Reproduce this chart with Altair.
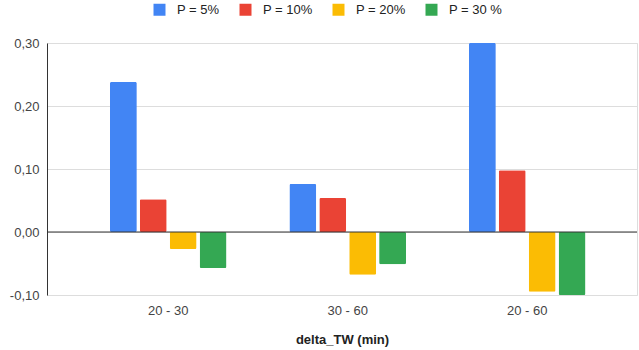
import altair as alt
import pandas as pd

# Intervals on the x axis and the four P series
intervals = ["20 - 30", "30 - 60", "20 - 60"]
series = ["P = 5%", "P = 10%", "P = 20%", "P = 30 %"]
colors = ["#4285F4", "#EA4335", "#FBBC04", "#34A853"]

p5 = [0.238, 0.076, 0.300]
p10 = [0.052, 0.054, 0.098]
p20 = [-0.027, -0.068, -0.095]
p30 = [-0.057, -0.051, -0.100]

rows = []
for s, vals in zip(series, [p5, p10, p20, p30]):
    for iv, v in zip(intervals, vals):
        rows.append({"interval": iv, "series": s, "value": v})
df = pd.DataFrame(rows)

font = "Liberation Sans"
comma_fmt = "replace(replace(format(datum.value, '.2f'), '.', ','), '\u2212', '-')"

bars = alt.Chart(df).mark_bar(cornerRadius=1.5).encode(
    x=alt.X(
        "interval:N",
        sort=intervals,
        scale=alt.Scale(paddingInner=0.35, paddingOuter=0.3185, align=0.55),
        axis=alt.Axis(
            title="delta_TW (min)",
            labelAngle=0,
            domain=False,
            ticks=False,
            labelPadding=9,
            labelFontSize=13,
            labelColor="#444444",
            labelFont=font,
            titleFont=font,
            titleFontSize=13,
            titleFontWeight="bold",
            titleColor="#222222",
            titlePadding=16,
        ),
    ),
    xOffset=alt.XOffset(
        "series:N", sort=series, scale=alt.Scale(paddingInner=0.1, paddingOuter=0)
    ),
    y=alt.Y(
        "value:Q",
        scale=alt.Scale(domain=[-0.1, 0.3], nice=False),
        axis=alt.Axis(
            title=None,
            values=[-0.1, 0.0, 0.1, 0.2, 0.3],
            labelExpr=comma_fmt,
            grid=True,
            gridColor="#dddddd",
            domain=True,
            domainColor="#333333",
            ticks=False,
            labelPadding=8,
            labelFontSize=13,
            labelColor="#444444",
            labelFont=font,
        ),
    ),
    fill=alt.Fill(
        "series:N",
        sort=series,
        scale=alt.Scale(domain=series, range=colors),
        legend=alt.Legend(
            title=None,
            orient="none",
            legendX=106,
            legendY=-40,
            direction="horizontal",
            symbolType="square",
            symbolSize=144,
            symbolStrokeWidth=0,
            labelFontSize=13,
            labelFont=font,
            labelColor="#222222",
            labelOffset=11,
            columnPadding=19,
        ),
    ),
)

zero = alt.Chart(pd.DataFrame({"y": [0.0]})).mark_rule(color="#333333", strokeWidth=1).encode(
    y="y:Q"
)

chart = (
    alt.layer(bars, zero)
    .properties(
        width=590,
        height=252,
        padding={"left": 47, "top": 43, "right": 2, "bottom": 55},
        autosize=alt.AutoSizeParams(type="none"),
    )
    .configure_view(stroke=None)
    .configure(background="white")
)

chart.save("out.html", embed_options={"renderer": "svg", "actions": False})
